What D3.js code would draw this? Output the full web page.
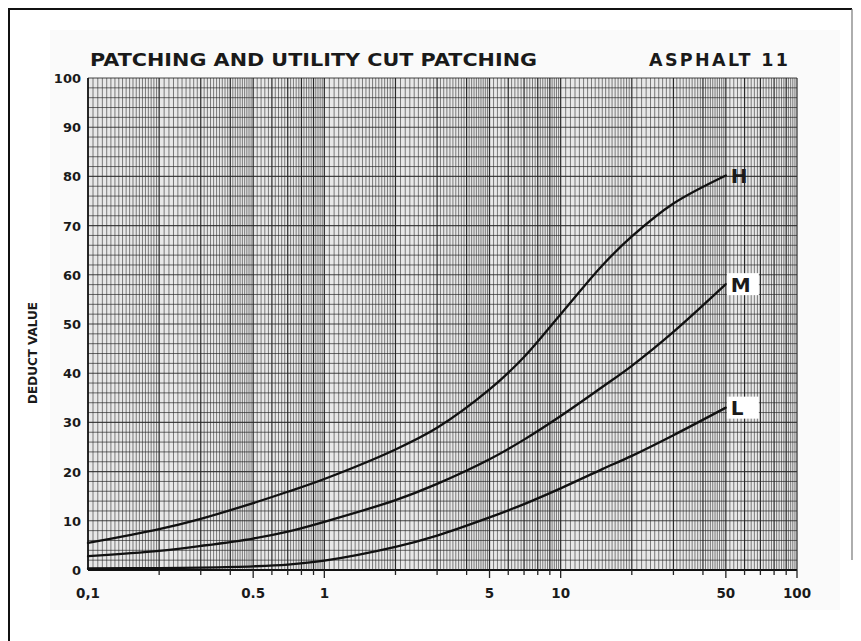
<!DOCTYPE html>
<html>
<head>
<meta charset="utf-8">
<script src="https://cdn.jsdelivr.net/npm/d3@7/dist/d3.min.js"></script>
<style>
  html, body { margin: 0; padding: 0; background: #ffffff; }
  svg { display: block; }
  text { font-family: "DejaVu Sans", "Liberation Sans", sans-serif; font-weight: bold; fill: #1a1a1a; }
</style>
</head>
<body>
<svg id="chart" width="861" height="641"></svg>
<script>
// Density (percent) at which each curve is read
const density = [0.1, 0.2, 0.3, 0.5, 0.7, 1, 2, 3, 5, 7, 10, 15, 20, 30, 50];

// Deduct values by severity level
const highValues   = [5.5, 8.3, 10.4, 13.6, 15.9, 18.5, 24.5, 28.9, 36.7, 43.3, 52.0, 61.9, 67.8, 74.5, 80.2];
const mediumValues = [2.8, 3.9, 4.9, 6.4, 7.8, 9.8, 14.2, 17.5, 22.5, 26.5, 31.3, 37.2, 41.5, 48.4, 58.1];
const lowValues    = [0.3, 0.4, 0.5, 0.75, 1.1, 1.9, 4.7, 7.0, 10.7, 13.4, 16.6, 20.5, 23.2, 27.4, 33.0];

const seriesNames = ["H", "M", "L"];

// Axis ticks
const xTickValues = [0.1, 0.5, 1, 5, 10, 50, 100];
const xTickLabels = ["0,1", "0.5", "1", "5", "10", "50", "100"];
const yTickValues = [0, 10, 20, 30, 40, 50, 60, 70, 80, 90, 100];

const titleLeft = "PATCHING AND UTILITY CUT PATCHING";
const titleRight = "ASPHALT  11";
const yAxisTitle = "DEDUCT VALUE";

const svg = d3.select("#chart");

const plot = { left: 88, right: 797, top: 78, bottom: 570 };

const x = d3.scaleLog().domain([0.1, 100]).range([plot.left, plot.right]);
const y = d3.scaleLinear().domain([0, 100]).range([plot.bottom, plot.top]);

// Soft paper tone behind the sheet
svg.append("rect")
  .attr("x", 50).attr("y", 30).attr("width", 790).attr("height", 580)
  .attr("fill", "#fafafa");

// Frame
svg.append("path")
  .attr("d", "M9,641 V9 H852")
  .attr("fill", "none").attr("stroke", "#111").attr("stroke-width", 2);
svg.append("line")
  .attr("x1", 852).attr("x2", 852).attr("y1", 9).attr("y2", 560)
  .attr("stroke", "#777").attr("stroke-width", 1.2);

// Plot background
svg.append("rect")
  .attr("x", plot.left).attr("y", plot.top)
  .attr("width", plot.right - plot.left).attr("height", plot.bottom - plot.top)
  .attr("fill", "#e8e8e8");

// Log-paper vertical rulings
const vLines = [];
[0.1, 1, 10].forEach(dec => {
  for (let m = 1; m < 2 - 1e-9; m += 0.05) vLines.push({ v: m * dec, major: Math.abs(m - Math.round(m)) < 1e-6 });
  for (let m = 2; m < 5 - 1e-9; m += 0.1) vLines.push({ v: m * dec, major: Math.abs(m - Math.round(m)) < 1e-6 });
  for (let m = 5; m < 10 - 1e-9; m += 0.2) vLines.push({ v: m * dec, major: Math.abs(m - Math.round(m)) < 1e-6 });
});
vLines.push({ v: 100, major: true });

const grid = svg.append("g").attr("class", "grid");
grid.selectAll("line.v").data(vLines).join("line")
  .attr("class", "v")
  .attr("x1", d => x(d.v)).attr("x2", d => x(d.v))
  .attr("y1", plot.top).attr("y2", plot.bottom)
  .attr("stroke", d => d.major ? "#1e1e1e" : "#2e2e2e")
  .attr("stroke-width", d => d.major ? 1.2 : 0.7)
  .attr("stroke-opacity", d => d.major ? 0.95 : 0.85);

// Horizontal rulings every 2 units
const hLines = d3.range(0, 101, 2);
grid.selectAll("line.h").data(hLines).join("line")
  .attr("class", "h")
  .attr("x1", plot.left).attr("x2", plot.right)
  .attr("y1", d => y(d)).attr("y2", d => y(d))
  .attr("stroke", "#262626")
  .attr("stroke-width", d => d % 10 === 0 ? 1.1 : 0.8)
  .attr("stroke-opacity", 0.85);

// Axes lines
svg.append("line")
  .attr("x1", plot.left).attr("x2", plot.right)
  .attr("y1", plot.bottom).attr("y2", plot.bottom)
  .attr("stroke", "#111").attr("stroke-width", 2);
svg.append("line")
  .attr("x1", plot.left).attr("x2", plot.left)
  .attr("y1", plot.top).attr("y2", plot.bottom)
  .attr("stroke", "#111").attr("stroke-width", 1.6);

// X tick marks below the axis
const minorTicks = [];
[0.1, 1, 10].forEach(dec => { for (let m = 2; m <= 10; m++) minorTicks.push(+(m * dec).toPrecision(6)); });
svg.append("g").selectAll("line").data(minorTicks).join("line")
  .attr("x1", d => x(d)).attr("x2", d => x(d))
  .attr("y1", plot.bottom)
  .attr("y2", d => plot.bottom + (xTickValues.includes(d) ? 8 : 5))
  .attr("stroke", "#222").attr("stroke-width", 1.3);

// X tick labels
svg.append("g").selectAll("text").data(xTickValues).join("text")
  .attr("x", d => x(d)).attr("y", 598)
  .attr("text-anchor", "middle")
  .attr("font-size", 13.5)
  .text((d, i) => xTickLabels[i]);

// Y tick labels
svg.append("g").selectAll("text").data(yTickValues).join("text")
  .attr("x", 81).attr("y", d => y(d) + 5)
  .attr("text-anchor", "end")
  .attr("font-size", 13)
  .text(d => d);

// Y axis title
svg.append("text")
  .attr("transform", "translate(37,353) rotate(-90)")
  .attr("text-anchor", "middle")
  .attr("font-size", 11.5)
  .attr("textLength", 102).attr("lengthAdjust", "spacingAndGlyphs")
  .style("font-weight", "600")
  .text(yAxisTitle);

// Titles
svg.append("text")
  .attr("x", 90).attr("y", 66)
  .attr("font-size", 17.5)
  .attr("textLength", 447).attr("lengthAdjust", "spacingAndGlyphs")
  .text(titleLeft);
svg.append("text")
  .attr("x", 649).attr("y", 66)
  .attr("font-size", 17.5)
  .attr("textLength", 139).attr("lengthAdjust", "spacing")
  .text(titleRight);

// Curves (centripetal Catmull-Rom through the read points, in log-axis screen space)
const allSeries = [highValues, mediumValues, lowValues];
const line = d3.line()
  .x((d, i) => x(density[i]))
  .y(d => y(d))
  .curve(d3.curveCatmullRom.alpha(0.5));

svg.append("g").selectAll("path").data(allSeries).join("path")
  .attr("d", d => line(d))
  .attr("fill", "none")
  .attr("stroke", "#111")
  .attr("stroke-width", 2.3)
  .attr("stroke-linecap", "round");

// End labels
const labelBoxes = [false, true, true];
const labelGroup = svg.append("g");
allSeries.forEach((vals, i) => {
  const endVal = vals[vals.length - 1];
  const lx = x(density[density.length - 1]) + 2;
  const ly = y(endVal);
  if (labelBoxes[i]) {
    labelGroup.append("rect")
      .attr("x", lx - 1).attr("y", ly - 11)
      .attr("width", 32).attr("height", 22)
      .attr("fill", "#ffffff");
  }
  labelGroup.append("text")
    .attr("x", lx + 3).attr("y", ly + 7.5)
    .attr("font-size", 20)
    .text(seriesNames[i]);
});
</script>
</body>
</html>
